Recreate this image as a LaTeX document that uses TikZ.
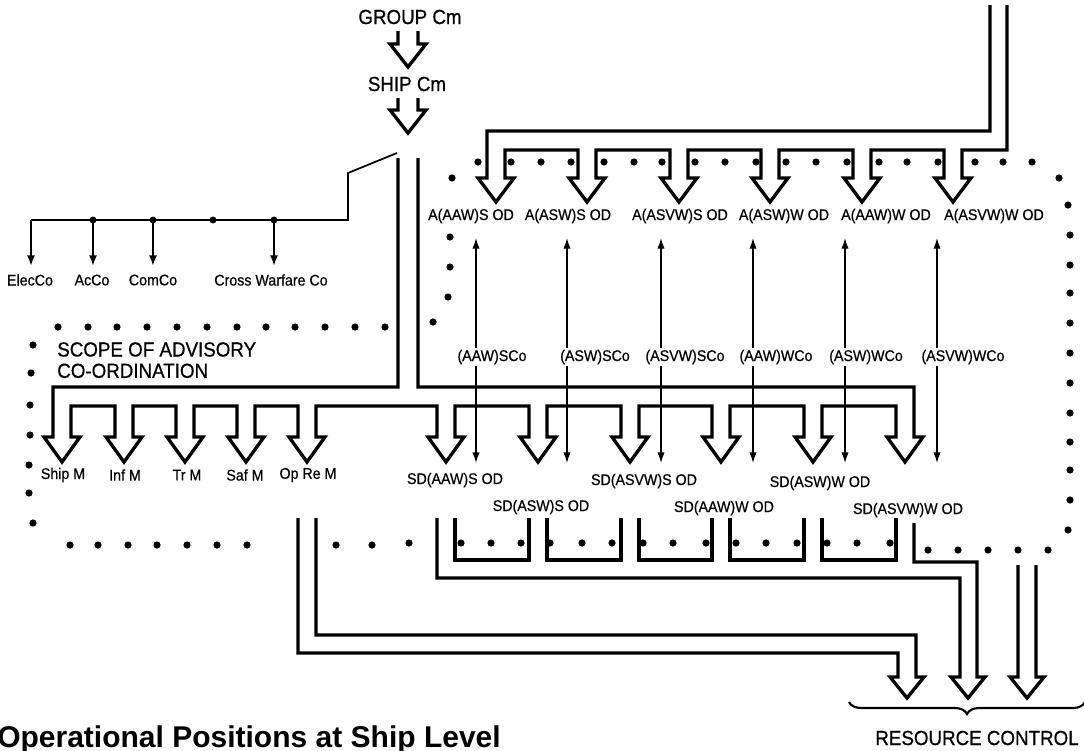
\documentclass[tikz,border=0pt]{standalone}
\usepackage{fontspec}
\setmainfont{Liberation Sans}
\newfontfamily\labfont[FakeStretch=0.92,FakeBold=0.6]{Liberation Sans}
\usetikzlibrary{arrows.meta,decorations.pathreplacing}
\begin{document}
\begin{tikzpicture}[x=0.75pt,y=-0.75pt,
  pipe/.style={line width=2.5pt},
  thinl/.style={line width=1pt},
  treel/.style={line width=1.3pt},
  tipend/.style={-{Latex[length=8pt,width=6pt]}},
  bothend/.style={{Latex[length=8pt,width=5.5pt]}-{Latex[length=8pt,width=5.5pt]}},
  lab/.style={font=\labfont\fontsize{11.6pt}{13pt}\selectfont, inner sep=1pt},
  colab/.style={lab, fill=white, inner sep=1.5pt},
  big/.style={font=\labfont\fontsize{15.3pt}{16pt}\selectfont, inner sep=1pt}
]
\useasboundingbox (0,0) rectangle (1084,750);

% ---- top labels and hollow arrows
\node[big] (grp) at (410,17) {GROUP Cm};
\node[big] (ship) at (407,84) {SHIP Cm};
\draw[pipe] (398,31) -- (398,44) -- (390,44) -- (408,67) -- (426,44) -- (418,44) -- (418,31);
\draw[pipe] (398,98) -- (398,110) -- (390,110) -- (408,133) -- (426,110) -- (418,110) -- (418,98);

% ---- switch and coordination tree
\coordinate (swA) at (397,153);
\coordinate (swB) at (348,173);
\coordinate (swC) at (348,220);
\coordinate (tl) at (31,220);
\draw[treel] (swA) -- (swB) -- (swC) -- (tl);
\foreach \x in {31,93,153,274} \draw[treel,tipend] (\x,220) -- (\x,266);
\foreach \x in {93,153,213,274} \fill (\x,220) circle (2.6pt);
\node[lab] (elec) at (30,280) {ElecCo};
\node[lab] (acco) at (92,280) {AcCo};
\node[lab] (comco) at (153,280) {ComCo};
\node[lab] (cwco) at (271,280) {Cross Warfare Co};

% ---- scope text
\node[big, anchor=north west, inner sep=0pt, align=left] (scope) at (57,342) {SCOPE OF ADVISORY\\CO-ORDINATION};

% ---- lower chain of hollow arrows
\draw[pipe] (398,158) -- (398,387) -- (53,387) -- (53,437) -- (44,437) -- (62,462) -- (80,437) -- (71,437) -- (71,406)
  \foreach \c in {124,185,246,307,446,538,630,721,813} { -- ({\c-9},406) -- ({\c-9},437) -- ({\c-18},437) -- (\c,462) -- ({\c+18},437) -- ({\c+9},437) -- ({\c+9},406) }
  -- (896,406) -- (896,437) -- (887,437) -- (905,462) -- (923,437) -- (914,437) -- (914,387) -- (418,387) -- (418,158);

\node[lab] (shipm) at (63,475) {Ship M};
\node[lab] (infm) at (125,475) {Inf M};
\node[lab] (trm) at (187,475) {Tr M};
\node[lab] (safm) at (245,475) {Saf M};
\node[lab] (oprem) at (308,475) {Op Re M};

% ---- upper chain of hollow arrows
\draw[pipe] (990,5) -- (990,131) -- (487,131) -- (487,178) -- (478,178) -- (496,202) -- (514,178) -- (505,178) -- (505,150)
  \foreach \c in {587,679,770,862} { -- ({\c-9},150) -- ({\c-9},178) -- ({\c-18},178) -- (\c,202) -- ({\c+18},178) -- ({\c+9},178) -- ({\c+9},150) }
  -- (944,150) -- (944,178) -- (935,178) -- (953,202) -- (971,178) -- (962,178) -- (962,150) -- (1007,150) -- (1007,5);

\node[lab] (a1) at (471,216) {A(AAW)S OD};
\node[lab] (a2) at (568,216) {A(ASW)S OD};
\node[lab] (a3) at (680,216) {A(ASVW)S OD};
\node[lab] (a4) at (784,216) {A(ASW)W OD};
\node[lab] (a5) at (886,216) {A(AAW)W OD};
\node[lab] (a6) at (994,216) {A(ASVW)W OD};

% ---- co-ordinator double arrows
\foreach \x/\n in {476/1,567/2,661/3,753/4,845/5,937/6} {
  \coordinate (u\n) at (\x,238);
  \coordinate (d\n) at (\x,463);
  \draw[thinl,bothend] (u\n) -- (d\n);
}
\node[colab] (co1) at (492,357) {(AAW)SCo};
\node[colab] (co2) at (595,357) {(ASW)SCo};
\node[colab] (co3) at (685,357) {(ASVW)SCo};
\node[colab] (co4) at (776,357) {(AAW)WCo};
\node[colab] (co5) at (866,357) {(ASW)WCo};
\node[colab] (co6) at (963,357) {(ASVW)WCo};

% ---- SD labels
\node[lab] (sd1) at (455,480) {SD(AAW)S OD};
\node[lab] (sd2) at (541,507) {SD(ASW)S OD};
\node[lab] (sd3) at (644,481) {SD(ASVW)S OD};
\node[lab] (sd4) at (724,508) {SD(AAW)W OD};
\node[lab] (sd5) at (820,483) {SD(ASW)W OD};
\node[lab] (sd6) at (908,510) {SD(ASVW)W OD};

% ---- cups
\foreach \a/\b in {455/529,547/621,639/712,730/804,822/896}
  \draw[pipe] (\a,518) -- (\a,560) -- (\b,560) -- (\b,518);

% ---- feeds to resource control
\draw[pipe] (298,518) -- (298,653) -- (898,653) -- (898,677) -- (890,677) -- (907,698) -- (924,677) -- (916,677) -- (916,635) -- (316,635) -- (316,518);
\draw[pipe] (437,518) -- (437,578) -- (960,578) -- (960,677) -- (951,677) -- (968,698) -- (985,677) -- (977,677) -- (977,562) -- (914,562) -- (914,523);
\draw[pipe] (1018,565) -- (1018,677) -- (1010,677) -- (1027,698) -- (1044,677) -- (1036,677) -- (1036,565);

\coordinate (brL) at (849,702);
\coordinate (brR) at (1085,702);
\draw[line width=1.6pt, decorate, decoration={brace,mirror,amplitude=9pt}] (brL) -- (brR);
\node[big] (rc) at (977,738) {RESOURCE CONTROL};

% ---- dotted scope outline
\foreach \p in {
  (452,178),(478,162),(511,162),(541,162),(571,162),(604,162),(634,162),(662,162),
  (695,162),(725,162),(756,162),(786,162),(816,162),(847,162),(879,162),(907,162),(938,162),
  (975,162),(1003,162),(1032,162),(1059,178),(1068,205),
  (1070,235),(1070,265),(1070,293),(1070,323),(1070,353),(1070,383),(1070,413),(1070,442),(1070,470),(1070,500),(1068,530),
  (1048,550),(1018,550),(988,550),(958,550),(928,550),
  (461,543),(491,543),(521,543),(550,543),(582,543),(612,543),(643,543),(673,543),(706,543),
  (736,543),(766,543),(797,543),(827,543),(857,543),(890,543),
  (409,543),(372,545),(336,545),
  (247,545),(217,545),(187,545),(157,545),(128,545),(98,545),(70,545),
  (33,523),(29,493),(29,465),(30,435),(30,405),(31,373),(33,345),
  (58,327),(88,327),(117,327),(147,327),(177,327),(207,327),(237,327),(266,327),(295,327),(325,327),(355,327),(385,327),
  (433,322),(448,297),(450,267),(450,237)}
  \fill \p circle (2.7pt);

% ---- title
\node[anchor=base west, inner sep=0pt, font=\bfseries\fontsize{22.5pt}{26pt}\selectfont] (title) at (-3,747) {Operational Positions at Ship Level};
\end{tikzpicture}
\end{document}
